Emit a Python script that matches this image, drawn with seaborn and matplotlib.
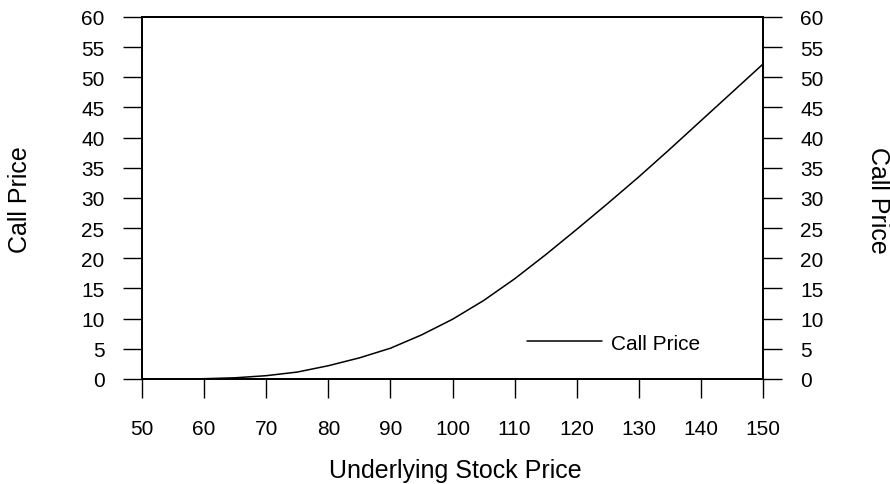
import matplotlib
matplotlib.use("Agg")
import matplotlib.pyplot as plt
import seaborn as sns
import pandas as pd

# Underlying stock price grid and the corresponding call option price
stock_price = [50, 55, 60, 65, 70, 75, 80, 85, 90, 95, 100,
               105, 110, 115, 120, 125, 130, 135, 140, 145, 150]
call_price = [0.0, 0.0, 0.05, 0.2, 0.55, 1.15, 2.2, 3.5, 5.1, 7.3, 9.9,
              13.0, 16.6, 20.6, 24.8, 29.1, 33.5, 38.1, 42.8, 47.5, 52.2]

x_ticks = list(range(50, 151, 10))
y_ticks = list(range(0, 61, 5))

sns.set_theme(style="ticks")
plt.rcParams["font.family"] = ["Liberation Sans", "DejaVu Sans"]
plt.rcParams["text.color"] = "black"
plt.rcParams["axes.labelcolor"] = "black"

df = pd.DataFrame({"Underlying Stock Price": stock_price, "Call Price": call_price})

fig = plt.figure(figsize=(8.9, 4.85), dpi=100)
ax = fig.add_axes([0.1596, 0.2165, 0.6977, 0.7464])

sns.lineplot(data=df, x="Underlying Stock Price", y="Call Price", ax=ax,
             color="black", linewidth=1.1, label="Call Price")

ax.set_xlim(50, 150)
ax.set_ylim(0, 60)
ax.set_xticks(x_ticks)
ax.set_yticks(y_ticks)

tick_kw = dict(length=13.5, width=1.0, colors="black", labelsize=15, pad=13.5)
ax.tick_params(axis="y", direction="out", **tick_kw)
ax.tick_params(axis="x", direction="out", length=13.5, width=1.0, colors="black",
               labelsize=15, pad=15)

for sp in ax.spines.values():
    sp.set_visible(True)
    sp.set_color("black")
    sp.set_linewidth(1.3)

# Secondary axis on the right mirroring the call price scale
ax2 = ax.twinx()
ax2.set_ylim(0, 60)
ax2.set_yticks(y_ticks)
ax2.tick_params(axis="y", direction="out", **tick_kw)
for sp in ax2.spines.values():
    sp.set_color("black")
    sp.set_linewidth(1.3)

ax.set_xlabel("Underlying Stock Price", fontsize=18, color="black")
ax.set_ylabel("Call Price", fontsize=18, color="black")
ax2.set_ylabel("Call Price", fontsize=18, rotation=-90, color="black")

ax.xaxis.set_label_coords(0.504, -0.251)
ax.xaxis.label.set_va("center")
ax.yaxis.set_label_coords(-0.1965, 0.497)
ax.yaxis.label.set_va("center")
ax2.yaxis.set_label_coords(1.185, 0.497)
ax2.yaxis.label.set_va("center")

leg = ax.legend(loc="center left", bbox_to_anchor=(0.62, 0.0994), frameon=False,
                fontsize=15, handlelength=3.6, handletextpad=0.45,
                borderpad=0, borderaxespad=0)
for t in leg.get_texts():
    t.set_color("black")

fig.savefig("out.png", dpi=100, facecolor="white")
